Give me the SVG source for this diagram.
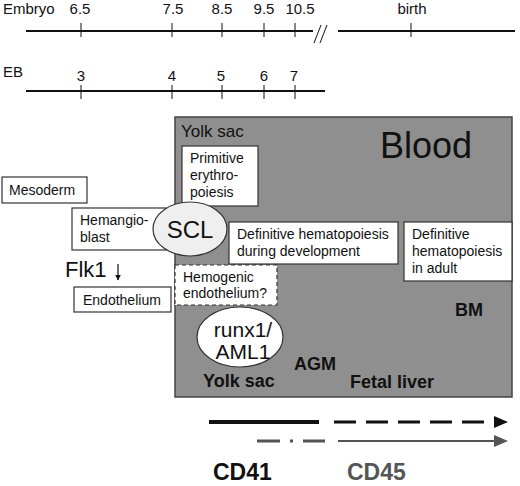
<svg xmlns="http://www.w3.org/2000/svg" width="520" height="486" viewBox="0 0 520 486">
<style>
text{font-family:"Liberation Sans",Arial,sans-serif;fill:#111}
.t{font-size:15px}
.b{font-size:14px}
.bold{font-size:18px;font-weight:bold}
.box{fill:#fff;stroke:#333;stroke-width:1.2}
.axis{stroke:#111;stroke-width:2;fill:none}
.tick{stroke:#111;stroke-width:1}
</style>
<defs>
<marker id="af" viewBox="0 0 10 10" refX="9" refY="5" markerWidth="5" markerHeight="6" markerUnits="strokeWidth" orient="auto"><path d="M0,0 L10,5 L0,10 z" fill="#111"/></marker>
</defs>

<g id="timeline-embryo">
<text class="t" x="3" y="14">Embryo</text>
<line class="axis" x1="26" y1="31" x2="313" y2="31"/>
<line class="tick" x1="314" y1="43" x2="321" y2="25"/>
<line class="tick" x1="320" y1="43" x2="327" y2="25"/>
<line class="axis" x1="338" y1="31" x2="515" y2="31"/>
<g class="tick">
<line x1="81" y1="23" x2="81" y2="37"/>
<line x1="172" y1="23" x2="172" y2="37"/>
<line x1="222" y1="23" x2="222" y2="37"/>
<line x1="264" y1="23" x2="264" y2="37"/>
<line x1="295" y1="23" x2="295" y2="37"/>
<line x1="411" y1="23" x2="411" y2="37"/>
</g>
<g class="t" text-anchor="middle">
<text x="80" y="14">6.5</text>
<text x="173" y="14">7.5</text>
<text x="222" y="14">8.5</text>
<text x="264" y="14">9.5</text>
<text x="300" y="14">10.5</text>
<text x="412" y="14">birth</text>
</g>
</g>

<g id="timeline-eb">
<text class="t" x="3" y="77">EB</text>
<line class="axis" x1="26" y1="91" x2="325" y2="91"/>
<g class="tick">
<line x1="81" y1="85" x2="81" y2="99"/>
<line x1="172" y1="85" x2="172" y2="99"/>
<line x1="222" y1="85" x2="222" y2="99"/>
<line x1="264" y1="85" x2="264" y2="99"/>
<line x1="295" y1="85" x2="295" y2="99"/>
</g>
<g class="t" text-anchor="middle">
<text x="81" y="81">3</text>
<text x="172" y="81">4</text>
<text x="221" y="81">5</text>
<text x="264" y="81">6</text>
<text x="294" y="81">7</text>
</g>
</g>

<g id="blood-region">
<rect x="175" y="117" width="337" height="280" fill="#8f8f8f" stroke="#444" stroke-width="1.5"/>
<text x="181" y="137" style="font-size:17px">Yolk sac</text>
<text x="380" y="158" style="font-size:36px">Blood</text>
</g>

<g id="primitive">
<rect class="box" x="182" y="146" width="76" height="60"/>
<text class="b" x="190" y="163">Primitive</text>
<text class="b" x="190" y="180">erythro-</text>
<text class="b" x="190" y="197">poiesis</text>
</g>

<g id="mesoderm">
<rect class="box" x="2" y="177" width="85" height="26"/>
<text class="b" x="9" y="195">Mesoderm</text>
</g>

<g id="hemangioblast">
<rect class="box" x="72" y="208" width="94" height="42"/>
<text class="b" x="80" y="225">Hemangio-</text>
<text class="b" x="80" y="242">blast</text>
</g>

<g id="scl">
<ellipse cx="190" cy="229" rx="37" ry="27" fill="#efefef" stroke="#333" stroke-width="1.2"/>
<text x="190" y="238" text-anchor="middle" style="font-size:24px">SCL</text>
</g>

<g id="def-dev">
<rect class="box" x="229" y="222" width="169" height="42"/>
<text class="b" x="237" y="239">Definitive hematopoiesis</text>
<text class="b" x="237" y="256">during development</text>
</g>

<g id="def-adult">
<rect class="box" x="404" y="222" width="108" height="59"/>
<text class="b" x="412" y="239">Definitive</text>
<text class="b" x="412" y="256">hematopoiesis</text>
<text class="b" x="412" y="273">in adult</text>
</g>

<g id="hemogenic">
<rect x="175" y="265" width="102" height="40" fill="#fff" stroke="#333" stroke-width="1.2" stroke-dasharray="4,3"/>
<text class="b" x="183" y="282">Hemogenic</text>
<text class="b" x="183" y="298">endothelium?</text>
</g>

<g id="flk1">
<text x="65" y="277" style="font-size:22px">Flk1</text>
</g>

<g id="endothelium">
<rect class="box" x="74" y="287" width="97" height="25"/>
<text class="b" x="83" y="305">Endothelium</text>
</g>

<g id="runx1">
<ellipse cx="240" cy="337" rx="43" ry="30" fill="#fff" stroke="#333" stroke-width="1.2"/>
<text x="243" y="337" text-anchor="middle" style="font-size:21px">runx1/</text>
<text x="243" y="359" text-anchor="middle" style="font-size:21px">AML1</text>
</g>

<g id="sites">
<text class="bold" x="455" y="316">BM</text>
<text class="bold" x="294" y="370">AGM</text>
<text class="bold" x="203" y="387">Yolk sac</text>
<text class="bold" x="350" y="388">Fetal liver</text>
</g>

<g id="connectors">
<line x1="118" y1="264" x2="118" y2="280" stroke="#111" stroke-width="1.2" marker-end="url(#af)"/>
<line x1="209" y1="422" x2="319" y2="422" stroke="#111" stroke-width="4"/>
<line x1="334" y1="422" x2="494" y2="422" stroke="#111" stroke-width="3" stroke-dasharray="22,10"/>
<path d="M494,416 L508,422 L494,428 z" fill="#111"/>
<line x1="257" y1="441" x2="325" y2="441" stroke="#555" stroke-width="3" stroke-dasharray="23,10,3,10"/>
<line x1="338" y1="441" x2="494" y2="441" stroke="#555" stroke-width="2"/>
<path d="M494,435 L508,441 L494,447 z" fill="#555"/>
</g>

<g id="legend">
<text x="213" y="480" style="font-size:23px;font-weight:bold">CD41</text>
<text x="347" y="480" style="font-size:23px;font-weight:bold;fill:#555">CD45</text>
</g>
</svg>
